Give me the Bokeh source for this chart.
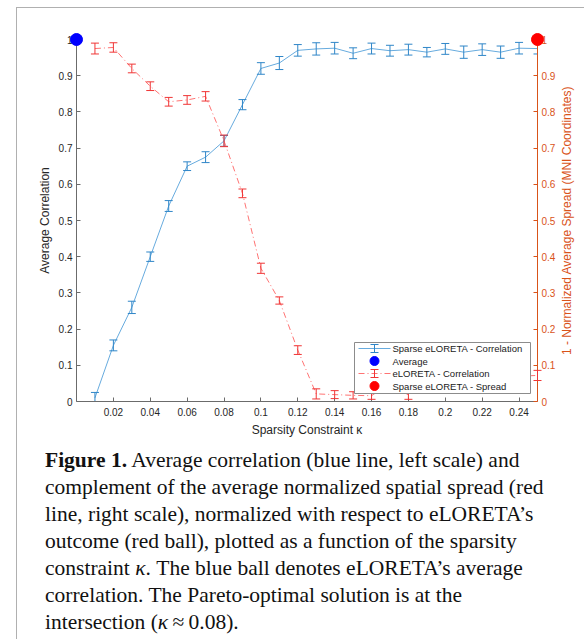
import math
from bokeh.plotting import figure
from bokeh.models import Range1d, LinearAxis, FixedTicker, Div
from bokeh.layouts import column
from bokeh.core.properties import value
from bokeh.embed import file_html
from bokeh.resources import INLINE

# ---------------- data ----------------
KAPPA = [0.01, 0.02, 0.03, 0.04, 0.05, 0.06, 0.07, 0.08, 0.09, 0.10, 0.11, 0.12, 0.13,
         0.14, 0.15, 0.16, 0.17, 0.18, 0.19, 0.20, 0.21, 0.22, 0.23, 0.24, 0.25]
SPARSE_CORR = [0.010, 0.155, 0.260, 0.400, 0.540, 0.650, 0.675, 0.720, 0.820, 0.920, 0.935, 0.970, 0.974,
               0.976, 0.962, 0.975, 0.969, 0.972, 0.965, 0.974, 0.965, 0.972, 0.965, 0.976, 0.975]
SPARSE_CORR_ERR = [0.015, 0.015, 0.017, 0.013, 0.015, 0.012, 0.015, 0.015, 0.014, 0.016, 0.018, 0.016, 0.017,
                   0.016, 0.015, 0.015, 0.015, 0.015, 0.013, 0.015, 0.017, 0.016, 0.017, 0.016, 0.015]
SPREAD = [0.975, 0.978, 0.920, 0.871, 0.828, 0.833, 0.843, 0.720, 0.575, 0.368, 0.279, 0.142, 0.021,
          0.019, 0.017, 0.016, 0.050, 0.018, 0.050, 0.060, 0.060, 0.065, 0.070, 0.070, 0.072]
SPREAD_ERR = [0.015, 0.013, 0.012, 0.012, 0.012, 0.012, 0.013, 0.016, 0.012, 0.014, 0.010, 0.012, 0.014,
              0.011, 0.010, 0.010, 0.012, 0.012, 0.012, 0.012, 0.012, 0.012, 0.012, 0.012, 0.014]
ELORETA_AVG_X = [0.0]
ELORETA_AVG_Y = [1.0]
ELORETA_SPREAD_X = [0.25]
ELORETA_SPREAD_Y = [1.0]

X_TICKS = [0.02, 0.04, 0.06, 0.08, 0.1, 0.12, 0.14, 0.16, 0.18, 0.2, 0.22, 0.24]
X_TICK_LABELS = ["0.02", "0.04", "0.06", "0.08", "0.1", "0.12", "0.14", "0.16", "0.18", "0.2", "0.22", "0.24"]
Y_TICKS = [0, 0.1, 0.2, 0.3, 0.4, 0.5, 0.6, 0.7, 0.8, 0.9, 1]
Y_TICK_LABELS = ["0", "0.1", "0.2", "0.3", "0.4", "0.5", "0.6", "0.7", "0.8", "0.9", "1"]
LEGEND_LABELS = ["Sparse eLORETA - Correlation", "Average", "eLORETA - Correlation", "Sparse eLORETA - Spread"]

X_LABEL = "Sparsity Constraint \u03ba"
Y_LABEL = "Average Correlation"
Y2_LABEL = "1 - Normalized Average Spread (MNI Coordinates)"

CAPTION = ("<b>Figure 1.</b> Average correlation (blue line, left scale) and<br>"
           "complement of the average normalized spatial spread (red<br>"
           "line, right scale), normalized with respect to eLORETA\u2019s<br>"
           "outcome (red ball), plotted as a function of the sparsity<br>"
           "constraint <i>\u03ba</i>. The blue ball denotes eLORETA\u2019s average<br>"
           "correlation. The Pareto-optimal solution is at the<br>"
           "intersection (<i>\u03ba</i>\u2009\u2248\u20090.08).")

# ---------------- style ----------------
FONT = "Liberation Sans"
BLUE_LINE = "#67ABDE"
BLUE_BAR = "#2F86C8"
RED_LINE = "#FF7373"
RED_BAR = "#F03535"
ORANGE = "#D95319"
AX_GRAY = "#6b6b6b"
TXT = "#262626"
FW, FH = 461, 362

p = figure(frame_width=FW, frame_height=FH,
           x_range=Range1d(0, 0.25), y_range=Range1d(0, 1),
           min_border_left=59, min_border_right=40, min_border_top=31, min_border_bottom=40,
           output_backend="svg", toolbar_location=None,
           background_fill_color="white", border_fill_color="white")
p.outline_line_color = None
p.xgrid.visible = False
p.ygrid.visible = False
p.extra_y_ranges = {"right": Range1d(0, 1), "lgy": Range1d(0, FH)}
p.extra_x_ranges = {"lgx": Range1d(0, FW)}


def style_axis(ax, ticks, labels, color, lblcolor):
    ax.ticker = FixedTicker(ticks=ticks)
    ax.major_label_overrides = {t: s for t, s in zip(ticks, labels)}
    ax.major_tick_in = 4
    ax.major_tick_out = 0
    ax.minor_tick_line_color = None
    ax.axis_line_color = color
    ax.major_tick_line_color = color
    ax.major_label_text_color = lblcolor
    ax.major_label_text_font = FONT
    ax.major_label_text_font_size = "10px"
    ax.major_label_standoff = 4
    ax.axis_label_text_font = FONT
    ax.axis_label_text_font_size = "12px"
    ax.axis_label_text_font_style = "normal"
    ax.axis_label_text_color = lblcolor
    ax.axis_label_standoff = 4


style_axis(p.xaxis[0], X_TICKS, X_TICK_LABELS, AX_GRAY, TXT)
p.xaxis[0].axis_label = X_LABEL
p.xaxis[0].major_label_standoff = 6
style_axis(p.yaxis[0], Y_TICKS, Y_TICK_LABELS, AX_GRAY, TXT)
p.yaxis[0].axis_label = Y_LABEL

yr = LinearAxis(y_range_name="right")
style_axis(yr, Y_TICKS, Y_TICK_LABELS, ORANGE, ORANGE)
p.add_layout(yr, "right")

# ---------------- series ----------------
lo_b = [v - e for v, e in zip(SPARSE_CORR, SPARSE_CORR_ERR)]
hi_b = [v + e for v, e in zip(SPARSE_CORR, SPARSE_CORR_ERR)]
lo_r = [v - e for v, e in zip(SPREAD, SPREAD_ERR)]
hi_r = [v + e for v, e in zip(SPREAD, SPREAD_ERR)]

p.line(KAPPA, SPARSE_CORR, line_color=BLUE_LINE, line_width=1)
p.segment(KAPPA, lo_b, KAPPA, hi_b, line_color=BLUE_BAR, line_width=1)
p.scatter(KAPPA + KAPPA, lo_b + hi_b, marker="dash", size=8, line_color=BLUE_BAR, line_width=1)

p.line(KAPPA, SPREAD, line_color=RED_LINE, line_width=1, line_dash="6 3 1 3", y_range_name="right")
p.segment(KAPPA, lo_r, KAPPA, hi_r, line_color=RED_BAR, line_width=1, y_range_name="right", level="overlay")
p.scatter(KAPPA + KAPPA, lo_r + hi_r, marker="dash", size=8, line_color=RED_BAR, line_width=1,
          y_range_name="right", level="overlay")

# ---------------- legend (frame pixel space) ----------------
LEG_L, LEG_R, LEG_B, LEG_T = 278, 454, 8, 59
ROW_Y = [53, 40.5, 28, 15.5]
G0, G1 = 282, 314
GC = (G0 + G1) / 2
TX = 316
lk = dict(x_range_name="lgx", y_range_name="lgy", level="overlay")
p.quad(left=[LEG_L], right=[LEG_R], bottom=[LEG_B], top=[LEG_T], fill_color="white",
       line_color="#8c8c8c", line_width=1, **lk)
# row 1: blue line with error bar
p.segment([G0], [ROW_Y[0]], [G1], [ROW_Y[0]], line_color=BLUE_LINE, line_width=1, **lk)
p.segment([GC], [ROW_Y[0] - 4], [GC], [ROW_Y[0] + 4], line_color=BLUE_BAR, line_width=1, **lk)
p.segment([GC - 4, GC - 4], [ROW_Y[0] - 4, ROW_Y[0] + 4], [GC + 4, GC + 4], [ROW_Y[0] - 4, ROW_Y[0] + 4],
          line_color=BLUE_BAR, line_width=1, **lk)
# row 2: blue ball
p.scatter([GC], [ROW_Y[1]], size=9, fill_color="#0000FF", line_color="#0000FF", **lk)
# row 3: red dash-dot with error bar
p.segment([G0], [ROW_Y[2]], [G1], [ROW_Y[2]], line_color=RED_LINE, line_width=1, line_dash="6 3 1 3", **lk)
p.segment([GC], [ROW_Y[2] - 4], [GC], [ROW_Y[2] + 4], line_color=RED_BAR, line_width=1, **lk)
p.segment([GC - 4, GC - 4], [ROW_Y[2] - 4, ROW_Y[2] + 4], [GC + 4, GC + 4], [ROW_Y[2] - 4, ROW_Y[2] + 4],
          line_color=RED_BAR, line_width=1, **lk)
# row 4: red ball
p.scatter([GC], [ROW_Y[3]], size=9, fill_color="#FF0000", line_color="#FF0000", **lk)
p.text([TX] * 4, ROW_Y, text=LEGEND_LABELS, text_baseline="middle", text_align="left",
       text_font=value(FONT), text_font_size="9.5px", text_color="#1a1a1a", **lk)

# right axis title, reading bottom-to-top like the left one
p.text([FW + 29], [FH / 2], text=[Y2_LABEL], angle=math.pi / 2, text_align="center",
       text_baseline="middle", text_font=value(FONT), text_font_size="12px", text_color=ORANGE, **lk)

# ---------------- reference balls ----------------
p.scatter(ELORETA_AVG_X, ELORETA_AVG_Y, size=12, fill_color="#0000FF", line_color="#0000FF", level="overlay")
p.scatter(ELORETA_SPREAD_X, ELORETA_SPREAD_Y, size=12, fill_color="#FF0000", line_color="#FF0000",
          y_range_name="right", level="overlay")

cap = Div(text=('<div style="font-family:\'Liberation Serif\',serif;font-size:21.5px;line-height:27px;'
                'color:#111111;white-space:nowrap;padding:1px 0 0 23px;">' + CAPTION + '</div>'),
          width=560, height=196)

layout = column(p, cap, styles={"border": "1px solid #b0b0b0", "background-color": "white"},
                margin=(7, 0, 0, 16))

open("out.html", "w").write(file_html(layout, INLINE))
